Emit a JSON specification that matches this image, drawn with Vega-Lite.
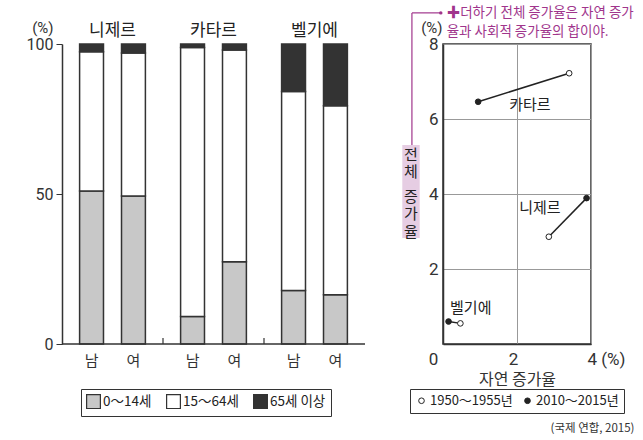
{
  "$schema": "https://vega.github.io/schema/vega-lite/v6.json",
  "background": "white",
  "padding": {"left": 26, "top": 5, "right": 5, "bottom": 3},
  "bounds": "flush",
  "spacing": 78,
  "config": {
    "font": "Noto Sans CJK KR",
    "view": {"stroke": null},
    "axis": {
      "labelColor": "#333", "titleColor": "#333", "domainColor": "#333", "tickColor": "#333",
      "labelFont": "Liberation Sans Narrow, Roboto, sans-serif",
      "titleFont": "Noto Sans CJK KR", "titleFontWeight": "normal", "domainWidth": 1.5
    },
    "legend": {"labelFont": "Liberation Sans Narrow, Noto Sans CJK KR", "labelColor": "#222"},
    "text": {"font": "Noto Sans CJK KR", "color": "#333"}
  },
  "title": {"text": "(국제 연합, 2015)", "orient": "bottom", "anchor": "end", "fontSize": 11.5, "fontWeight": "normal", "color": "#333", "font": "Noto Sans CJK KR", "offset": 6},
  "hconcat": [
    {
      "width": 303,
      "height": 300,
      "data": {"values": [
        {"country": "니제르", "sex": "남", "age": "0～14세", "ord": 1, "value": 51.0},
        {"country": "니제르", "sex": "남", "age": "15～64세", "ord": 2, "value": 46.4},
        {"country": "니제르", "sex": "남", "age": "65세 이상", "ord": 3, "value": 2.6},
        {"country": "니제르", "sex": "여", "age": "0～14세", "ord": 1, "value": 49.3},
        {"country": "니제르", "sex": "여", "age": "15～64세", "ord": 2, "value": 47.7},
        {"country": "니제르", "sex": "여", "age": "65세 이상", "ord": 3, "value": 3.0},
        {"country": "카타르", "sex": "남", "age": "0～14세", "ord": 1, "value": 9.2},
        {"country": "카타르", "sex": "남", "age": "15～64세", "ord": 2, "value": 89.6},
        {"country": "카타르", "sex": "남", "age": "65세 이상", "ord": 3, "value": 1.2},
        {"country": "카타르", "sex": "여", "age": "0～14세", "ord": 1, "value": 27.4},
        {"country": "카타르", "sex": "여", "age": "15～64세", "ord": 2, "value": 70.6},
        {"country": "카타르", "sex": "여", "age": "65세 이상", "ord": 3, "value": 2.0},
        {"country": "벨기에", "sex": "남", "age": "0～14세", "ord": 1, "value": 17.8},
        {"country": "벨기에", "sex": "남", "age": "15～64세", "ord": 2, "value": 66.4},
        {"country": "벨기에", "sex": "남", "age": "65세 이상", "ord": 3, "value": 15.8},
        {"country": "벨기에", "sex": "여", "age": "0～14세", "ord": 1, "value": 16.4},
        {"country": "벨기에", "sex": "여", "age": "15～64세", "ord": 2, "value": 63.0},
        {"country": "벨기에", "sex": "여", "age": "65세 이상", "ord": 3, "value": 20.6}
      ]},
      "layer": [
        {
          "mark": {"type": "bar", "stroke": "#333", "strokeWidth": 1.5},
          "encoding": {
            "x": {"field": "country", "type": "nominal", "sort": ["니제르", "카타르", "벨기에"],
              "scale": {"paddingInner": 0, "paddingOuter": 0},
              "axis": {"orient": "top", "domain": false, "ticks": false, "labelAngle": 0, "labelFont": "Noto Sans CJK KR", "labelFontSize": 17, "labelPadding": 5, "labelColor": "#222", "title": null}},
            "xOffset": {"field": "sex", "type": "nominal", "sort": ["남", "여"], "scale": {"paddingInner": 0.43, "paddingOuter": 0.42}},
            "y": {"field": "value", "type": "quantitative", "stack": "zero", "scale": {"domain": [0, 100]},
              "axis": {"values": [0, 50, 100], "grid": false, "tickSize": 6, "labelPadding": 3, "labelFontSize": 16,
                "title": "(%)", "titleAngle": 0, "titleAlign": "right", "titleBaseline": "bottom", "titleX": -9, "titleY": -9, "titleFontSize": 15, "titleFont": "Liberation Sans Narrow, Roboto"}},
            "color": {"field": "age", "type": "nominal",
              "scale": {"domain": ["0～14세", "15～64세", "65세 이상"], "range": ["#c8c8c8", "#ffffff", "#333333"]},
              "legend": {"title": null, "orient": "none", "legendX": 19, "legendY": 345, "direction": "horizontal", "strokeColor": "#333", "padding": 5, "symbolType": "square", "symbolSize": 190, "symbolStrokeColor": "#333", "symbolStrokeWidth": 1.2, "labelFontSize": 13.5, "columnPadding": 12, "labelOffset": 2}},
            "order": {"field": "ord", "type": "quantitative"}
          }
        },
        {"data": {"values": [{}]}, "mark": {"type": "rule", "color": "#333", "strokeWidth": 1.5}, "encoding": {"y": {"datum": 0}}},
        {
          "data": {"values": [{"country": "카타르"}, {"country": "벨기에"}]},
          "mark": {"type": "rule", "color": "#333", "strokeWidth": 1.2},
          "encoding": {
            "x": {"field": "country", "type": "nominal", "sort": ["니제르", "카타르", "벨기에"], "bandPosition": 0},
            "y": {"datum": 0}, "y2": {"datum": 2}
          }
        },
        {
          "transform": [{"filter": "datum.ord == 1"}],
          "mark": {"type": "text", "fontSize": 15, "dy": 17, "color": "#333"},
          "encoding": {
            "x": {"field": "country", "type": "nominal", "sort": ["니제르", "카타르", "벨기에"]},
            "xOffset": {"field": "sex", "type": "nominal", "sort": ["남", "여"]},
            "y": {"datum": 0},
            "text": {"field": "sex"}
          }
        }
      ]
    },
    {
      "width": 148,
      "height": 300,
      "view": {"stroke": "#333", "strokeWidth": 1.5},
      "data": {"values": [
        {"country": "카타르", "period": "1950～1955년", "natural": 3.41, "total": 7.22},
        {"country": "카타르", "period": "2010～2015년", "natural": 0.95, "total": 6.46},
        {"country": "니제르", "period": "1950～1955년", "natural": 2.86, "total": 2.86},
        {"country": "니제르", "period": "2010～2015년", "natural": 3.88, "total": 3.89},
        {"country": "벨기에", "period": "1950～1955년", "natural": 0.47, "total": 0.55},
        {"country": "벨기에", "period": "2010～2015년", "natural": 0.15, "total": 0.60}
      ]},
      "layer": [
        {
          "mark": {"type": "line", "color": "#222", "strokeWidth": 1.5},
          "encoding": {
            "x": {"field": "natural", "type": "quantitative", "scale": {"domain": [0, 4], "nice": false},
              "axis": {"values": [0, 1, 2, 3, 4], "grid": true, "gridColor": "#999", "ticks": false, "labelFontSize": 17, "labelPadding": 7,
                "labelExpr": "datum.value == 4 ? '4 (%)' : (datum.value % 2 == 0 ? datum.label : '')",
                "labelAlign": {"condition": {"test": "datum.value == 4", "value": "left"}, "value": "center"},
                "labelOffset": {"condition": {"test": "datum.value == 0", "value": -10}, "value": -4},
                "title": "자연 증가율", "titleFontSize": 16, "titlePadding": 4}},
            "y": {"field": "total", "type": "quantitative", "scale": {"domain": [0, 8], "nice": false},
              "axis": {"values": [0, 1, 2, 3, 4, 5, 6, 7, 8], "grid": true, "gridColor": "#999", "ticks": false, "labelFontSize": 17, "labelPadding": 5,
                "labelExpr": "datum.value % 2 == 0 && datum.value > 0 ? datum.label : ''",
                "title": "(%)", "titleAngle": 0, "titleAlign": "right", "titleBaseline": "bottom", "titleX": -1, "titleY": -9, "titleFontSize": 15, "titleFont": "Liberation Sans Narrow, Roboto"}},
            "detail": {"field": "country"}
          }
        },
        {
          "mark": {"type": "point", "shape": "circle", "filled": true, "size": 32, "stroke": "#222", "strokeWidth": 1, "opacity": 1},
          "encoding": {
            "x": {"field": "natural", "type": "quantitative", "scale": {"domain": [0, 4]}},
            "y": {"field": "total", "type": "quantitative", "scale": {"domain": [0, 8]}},
            "fill": {"field": "period", "type": "nominal", "scale": {"domain": ["1950～1955년", "2010～2015년"], "range": ["#ffffff", "#222222"]},
              "legend": {"title": null, "orient": "none", "legendX": 348, "legendY": 345, "direction": "horizontal", "strokeColor": "#333", "padding": 5, "symbolType": "circle", "symbolSize": 32, "symbolStrokeColor": "#222", "symbolStrokeWidth": 1, "labelFontSize": 13, "columnPadding": 8, "labelOffset": 2}}
          }
        },
        {"data": {"values": [{}]}, "mark": {"type": "rect", "color": "#e6cde3"}, "encoding": {"x": {"datum": -1.1}, "x2": {"datum": -0.63}, "y": {"datum": 5.31}, "y2": {"datum": 2.83}}},
        {"data": {"values": [{}]}, "mark": {"type": "rule", "color": "#a0358c", "strokeWidth": 1.2}, "encoding": {"x": {"datum": -0.84}, "y": {"datum": 5.31}, "y2": {"datum": 8.83}}},
        {"data": {"values": [{}]}, "mark": {"type": "rule", "color": "#a0358c", "strokeWidth": 1.2}, "encoding": {"x": {"datum": -0.84}, "x2": {"datum": -0.06}, "y": {"datum": 8.83}}},
        {"data": {"values": [{}]}, "mark": {"type": "point", "shape": "circle", "filled": true, "size": 12, "color": "#a0358c", "opacity": 1}, "encoding": {"x": {"datum": -0.06}, "y": {"datum": 8.83}}},
        {"data": {"values": [{}]}, "mark": {"type": "text", "fontSize": 13.5, "align": "left", "lineBreak": "\n", "lineHeight": 19, "color": "#a0358c"}, "encoding": {"x": {"datum": 0.1}, "y": {"datum": 8.83}, "text": {"value": "✚더하기 전체 증가율은 자연 증가\n율과 사회적 증가율의 합이야."}}},
        {"data": {"values": [{}]}, "mark": {"type": "text", "fontSize": 15, "lineBreak": "\n", "lineHeight": 17.5, "color": "#222"}, "encoding": {"x": {"datum": -0.87}, "y": {"datum": 5.05}, "text": {"value": "전\n체"}}},
        {"data": {"values": [{}]}, "mark": {"type": "text", "fontSize": 15, "lineBreak": "\n", "lineHeight": 17.5, "color": "#222"}, "encoding": {"x": {"datum": -0.87}, "y": {"datum": 3.93}, "text": {"value": "증\n가\n율"}}},
        {"data": {"values": [{}]}, "mark": {"type": "text", "fontSize": 15, "color": "#222"}, "encoding": {"x": {"datum": 2.35}, "y": {"datum": 6.38}, "text": {"value": "카타르"}}},
        {"data": {"values": [{}]}, "mark": {"type": "text", "fontSize": 15, "color": "#222"}, "encoding": {"x": {"datum": 2.62}, "y": {"datum": 3.63}, "text": {"value": "니제르"}}},
        {"data": {"values": [{}]}, "mark": {"type": "text", "fontSize": 15, "color": "#222"}, "encoding": {"x": {"datum": 0.75}, "y": {"datum": 0.96}, "text": {"value": "벨기에"}}}
      ]
    }
  ]
}
